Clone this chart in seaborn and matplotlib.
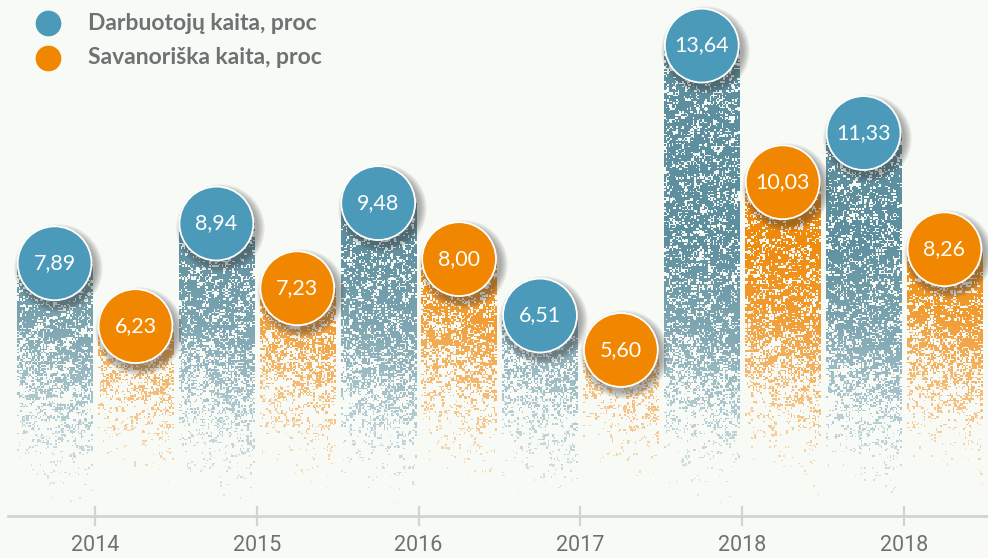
import numpy as np
import pandas as pd
import matplotlib
matplotlib.use('Agg')
import matplotlib.pyplot as plt
import seaborn as sns
from matplotlib.colors import to_rgb
from matplotlib.transforms import ScaledTranslation

# Data
years = ['2014', '2015', '2016', '2017', '2018', '2018']
series = ['Darbuotojų kaita, proc', 'Savanoriška kaita, proc']
darbuotoju = [7.89, 8.94, 9.48, 6.51, 13.64, 11.33]
savanoriska = [6.23, 7.23, 8.00, 5.60, 10.03, 8.26]

BG = '#f8faf6'
BLUE = '#4b9aba'
ORANGE = '#f18700'
GREY_TXT = '#6d7273'

# texture colours (top, faded bottom)
tex_colors = {
    series[0]: ('#5e8f9e', '#bcd2d8'),
    series[1]: ('#ef8a0c', '#f7c488'),
}
fade_end = {series[0]: 1.6, series[1]: 2.1}

sns.set_theme(style='white')
plt.rcParams['font.family'] = ['Lato', 'DejaVu Sans']

df = pd.DataFrame({
    'group': list(range(len(years))) * 2,
    'series': [series[0]] * len(years) + [series[1]] * len(years),
    'value': darbuotoju + savanoriska,
})

fig = plt.figure(figsize=(9.88, 5.58), dpi=100, facecolor=BG)
ax = fig.add_axes([8 / 988, 42 / 558, 980 / 988, 516 / 558])
ax.set_facecolor(BG)

sns.barplot(data=df, x='group', y='value', hue='series', hue_order=series,
            palette=[BLUE, ORANGE], width=1.0, gap=0.07, legend=False, ax=ax)

PX_PER_UNIT = 37.86
rng = np.random.default_rng(7)


def blur(a, r=1):
    out = np.zeros_like(a)
    n = 0
    for dy in range(-r, r + 1):
        for dx in range(-r, r + 1):
            out += np.roll(np.roll(a, dy, axis=0), dx, axis=1)
            n += 1
    return out / n


def chalk(ax, x0, w, h, name):
    # chalky fill: speckles + diagonal streaks, fading out towards the axis
    cell = 1.5
    nx = int(75 / cell)
    ny = max(int(h * PX_PER_UNIT / cell), 2)
    yy = np.linspace(h, 0, ny)[:, None] * np.ones((1, nx))
    xf = np.linspace(0, 1, nx)[None, :] * np.ones((ny, 1))
    xpx = xf * 75
    ypx = yy * PX_PER_UNIT
    v0 = fade_end[name] - 0.8 * (xf - 0.5)
    fade = np.clip((yy - v0) / 4.5, 0, 1) ** 0.7
    band = 0.5 + 0.5 * np.sin(2 * np.pi * (ypx - 0.45 * xpx) / 26 + rng.uniform(0, 6))
    band = np.clip((band - 0.5) * 2.0, 0, 1)
    fine = rng.random((ny, nx))
    clump = blur(rng.random((ny, nx)), 1)
    clump = (clump - clump.mean()) / (clump.std() + 1e-9)
    noise = 0.55 * fine + 0.45 * np.clip(0.5 + 0.25 * clump, 0, 1)
    density = fade * (0.68 - 0.3 * band * (1.3 - fade))
    mask = noise < density
    top, bot = (np.array(to_rgb(c)) for c in tex_colors[name])
    t = np.clip((yy - 2.0) / 6.5, 0, 1)[..., None]
    rgb = bot * (1 - t) + top * t
    alpha = mask * (0.4 + 0.6 * fade)
    img = np.dstack([rgb, alpha])
    ax.imshow(img, extent=(x0, x0 + w, 0, h), aspect='auto',
              interpolation='nearest', zorder=2)


centers = []
for name, cont in zip(series, ax.containers):
    for bar in cont:
        bar.set_visible(False)
        x0, w, h = bar.get_x(), bar.get_width(), bar.get_height()
        chalk(ax, x0, w, h, name)
        centers.append((x0 + w / 2, h, name))

# circles with soft shadow
cx = np.array([c[0] for c in centers])
cy = np.array([c[1] for c in centers])
ccol = [BLUE if c[2] == series[0] else ORANGE for c in centers]
shadow_tf = ax.transData + ScaledTranslation(0.035, -0.045, fig.dpi_scale_trans)
for k in range(7):
    d = 54 + k * 1.6
    ax.scatter(cx, cy, s=d ** 2, color='#3a3a3a', alpha=0.07, linewidths=0,
               transform=shadow_tf, zorder=3)
ax.scatter(cx, cy, s=2830, c=ccol, edgecolors='white', linewidths=1.3, zorder=4)
for x, y, _ in centers:
    ax.text(x, y, f'{y:.2f}'.replace('.', ','), ha='center', va='center',
            color='white', fontsize=15.5, zorder=5)

ax.set_xlim(-0.538, 5.519)
ax.set_ylim(1.215, 14.844)
ax.set_xticks(range(len(years)))
ax.set_xticklabels(years, family=['Roboto', 'DejaVu Sans'])
ax.set_xlabel('')
ax.set_ylabel('')
ax.set_yticks([])
for s in ['top', 'right', 'left']:
    ax.spines[s].set_visible(False)
ax.spines['bottom'].set_color('#d2d4d2')
ax.spines['bottom'].set_linewidth(2.0)
ax.tick_params(axis='x', direction='inout', length=15, width=1.6,
               color='#d2d4d2', labelsize=15.5, labelcolor=GREY_TXT, pad=6,
               bottom=True)

# legend
for yy, col, lab in [(23, BLUE, series[0]), (58, ORANGE, series[1])]:
    fig.add_artist(plt.Line2D([48 / 988], [1 - yy / 558], marker='o',
                              markersize=17.5, color=col, linestyle='none',
                              transform=fig.transFigure))
    fig.text(88 / 988, 1 - yy / 558, lab, ha='left', va='center',
             fontsize=16.5, fontweight='bold', color=GREY_TXT)

fig.savefig('out.png', dpi=100, facecolor=BG)
